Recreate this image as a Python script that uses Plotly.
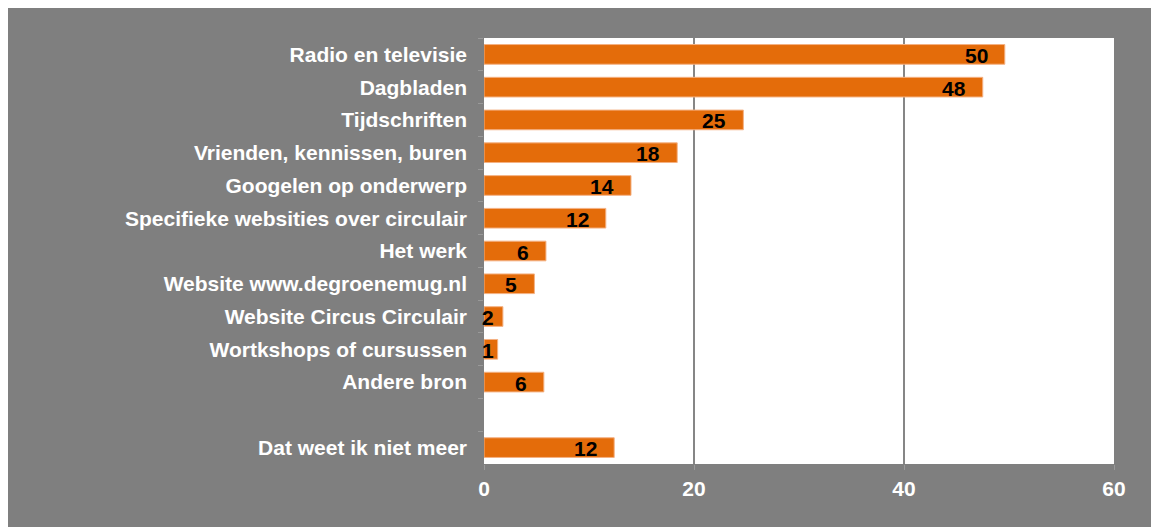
import plotly.graph_objects as go

# survey answers, top to bottom (blank row separates the last answer)
categories = ['Radio en televisie', 'Dagbladen', 'Tijdschriften', 'Vrienden, kennissen, buren',
              'Googelen op onderwerp', 'Specifieke websities over circulair', 'Het werk',
              'Website www.degroenemug.nl', 'Website Circus Circulair', 'Wortkshops of cursussen',
              'Andere bron', ' ', 'Dat weet ik niet meer']
values = [49.6, 47.5, 24.7, 18.4, 14.0, 11.6, 5.9, 4.8, 1.8, 1.3, 5.7, None, 12.4]
labels = ['50', '48', '25', '18', '14', '12', '6', '5', '2', '1', '6', '', '12']
xticks = [0, 20, 40, 60]

W, H = 1159, 527
L, R, T, B = 476, 53, 30, 71
GREY = '#7f7f7f'
ORANGE = '#e46c0a'
FONT = 'Liberation Sans, Arial, sans-serif'
FS = 21
px_per_unit = (W - L - R) / 60

fig = go.Figure()
fig.add_trace(go.Bar(y=categories, x=values, orientation='h',
                     marker=dict(color=ORANGE, line=dict(color='#f4b183', width=1)),
                     width=0.6, hoverinfo='skip'))

# data labels at the inside end of each bar; short bars get theirs at the bar start
for c, v, t in zip(categories, values, labels):
    if v is None:
        continue
    lab_font = dict(family=FONT, size=FS, color='black', weight='bold')
    if v * px_per_unit - 15 - 12 * len(t) < 0:
        fig.add_annotation(x=0, y=c, text=t, showarrow=False, xanchor='left', xshift=-4, yshift=-1,
                           font=lab_font)
    else:
        fig.add_annotation(x=v, y=c, text=t, showarrow=False, xanchor='right', xshift=-15, yshift=-1,
                           font=lab_font)

fig.update_layout(
    width=W, height=H,
    margin=dict(l=L, r=R, t=T, b=B, pad=0),
    paper_bgcolor=GREY, plot_bgcolor='white',
    showlegend=False,
    font=dict(family=FONT, size=FS, color='white', weight='bold'),
)
fig.update_xaxes(range=[0, 60], tickvals=xticks, showgrid=True, gridcolor='#868686', gridwidth=1.5,
                 zeroline=False, showline=False, ticks='outside', ticklen=5, tickcolor='#999999',
                 ticklabelstandoff=1, fixedrange=True)
fig.update_yaxes(categoryorder='array', categoryarray=categories, range=[12.5, -0.5],
                 ticks='outside', ticklen=5, tickcolor='#999999', tickson='boundaries',
                 ticklabelstandoff=16, showgrid=False, fixedrange=True)

fig.write_html('out.html')
